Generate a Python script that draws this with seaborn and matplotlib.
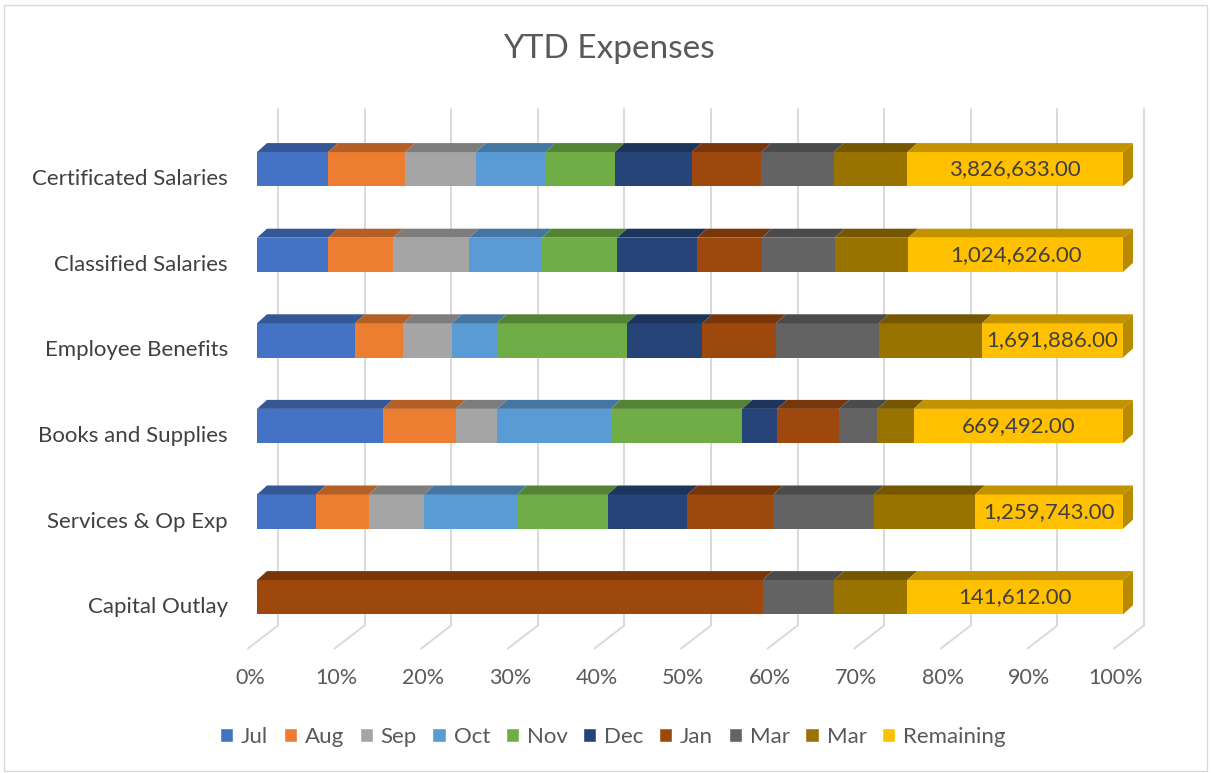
import matplotlib
matplotlib.use("Agg")
import matplotlib.pyplot as plt
import matplotlib.transforms as mtransforms
from matplotlib.patches import Polygon, Rectangle
import numpy as np
import pandas as pd
import seaborn as sns

# values (monthly amounts are estimates, remaining is labelled)
categories = [
    "Certificated Salaries",
    "Classified Salaries",
    "Employee Benefits",
    "Books and Supplies",
    "Services & Op Exp",
    "Capital Outlay",
]
series_names = ["Jul", "Aug", "Sep", "Oct", "Nov", "Dec", "Jan", "Mar", "Mar", "Remaining"]

jul = [1260000, 339000, 1173000, 402000, 501000, 0]
aug = [1368000, 310000, 581000, 233000, 450000, 0]
sep = [1260000, 363000, 581000, 133000, 472000, 0]
oct_ = [1230000, 347000, 540000, 363000, 789000, 0]
nov = [1230000, 359000, 1557000, 421000, 774000, 0]
dec = [1368000, 380000, 903000, 111000, 678000, 0]
jan = [1230000, 310000, 882000, 199000, 730000, 332000]
mar = [1291000, 347000, 1235000, 122000, 855000, 47000]
mar_2 = [1306000, 351000, 1235000, 116000, 862000, 48000]
remaining = [3826633.00, 1024626.00, 1691886.00, 669492.00, 1259743.00, 141612.00]

colors = ["#4472C4", "#ED7D31", "#A5A5A5", "#5B9BD5", "#70AD47",
          "#264478", "#9E480E", "#636363", "#997300", "#FFC000"]


def darker(hex_color, f=0.76):
    r, g, b = matplotlib.colors.to_rgb(hex_color)
    return (r * f, g * f, b * f)


values = np.array([jul, aug, sep, oct_, nov, dec, jan, mar, mar_2, remaining], dtype=float).T
shares = values / values.sum(axis=1, keepdims=True) * 100
right = np.cumsum(shares, axis=1)
left = right - shares

sns.set_style("white")
plt.rcParams["font.family"] = ["Lato", "DejaVu Sans"]

fig = plt.figure(figsize=(12.11, 7.73), dpi=100)
ax = fig.add_axes([257 / 1211, 133 / 773, 866 / 1211, 513.6 / 773])

bar_h = 0.4
# stacked bars: draw cumulative totals, largest first
for i in reversed(range(len(series_names))):
    df = pd.DataFrame({"category": categories, "pct": right[:, i]})
    sns.barplot(data=df, x="pct", y="category", orient="h", color=colors[i],
                saturation=1, width=bar_h, linewidth=0, ax=ax, zorder=2)

ax.set_xlim(0, 100)
ax.set_ylim(5.5, -0.5)

# 3D-ish depth of the bars
dx, dy = 1.15, 0.105
for j in range(len(categories)):
    yt = j - bar_h / 2
    for i in range(len(series_names)):
        if shares[j, i] <= 0:
            continue
        x0, x1 = left[j, i], right[j, i]
        ax.add_patch(Polygon([(x0, yt), (x1, yt), (x1 + dx, yt - dy), (x0 + dx, yt - dy)],
                             closed=True, facecolor=darker(colors[i]), lw=0,
                             zorder=2, clip_on=False))
    ax.add_patch(Polygon([(100, yt), (100, yt + bar_h), (100 + dx, yt + bar_h - dy), (100 + dx, yt - dy)],
                         closed=True, facecolor=darker(colors[-1], 0.72), lw=0,
                         zorder=2, clip_on=False))
    ax.text((left[j, -1] + 100) / 2, j, f"{remaining[j]:,.2f}", ha="center", va="center",
            fontsize=16, color="#404040", zorder=3)

# back-wall gridlines and floor
ticks = np.arange(0, 101, 10)
gx, ytop, yfloor = 2.42, -0.70, 5.33
for t in ticks:
    ax.plot([t + gx, t + gx], [ytop, yfloor], color="#D9D9D9", lw=1.4, zorder=0.5, clip_on=False)
    ax.plot([t + gx, t + gx - 3.46], [yfloor, yfloor + 0.27], color="#D9D9D9", lw=1.4,
            zorder=0.5, clip_on=False)

ax.set_xticks(ticks)
ax.set_xticklabels([f"{t}%" for t in ticks])
ax.set_xlabel("")
ax.set_ylabel("")
ax.tick_params(axis="x", length=0, pad=20, labelsize=15.5, labelcolor="#595959")
ax.tick_params(axis="y", length=0, pad=21, labelsize=16, labelcolor="#404040")
for lab in ax.get_xticklabels():
    lab.set_transform(lab.get_transform() + mtransforms.ScaledTranslation(-7 / 100, 0, fig.dpi_scale_trans))
for lab in ax.get_yticklabels():
    lab.set_transform(lab.get_transform() + mtransforms.ScaledTranslation(0, -8 / 100, fig.dpi_scale_trans))
sns.despine(ax=ax, left=True, bottom=True)

fig.text(0.503, 1 - 49 / 773, "YTD Expenses", ha="center", va="center",
         fontsize=24, color="#595959")

handles = [Rectangle((0, 0), 1, 1, facecolor=c) for c in colors]
fig.legend(handles, series_names, loc="center", bbox_to_anchor=(0.506, 1 - 737 / 773),
           ncol=10, frameon=False, handlelength=0.6, handleheight=0.6,
           handletextpad=0.35, columnspacing=0.7, fontsize=16, labelcolor="#595959")

fig.patches.append(Rectangle((0.003, 0.002), 0.994, 0.991, transform=fig.transFigure,
                             fill=False, edgecolor="#D9D9D9", lw=1))

fig.savefig("out.png", dpi=100)
